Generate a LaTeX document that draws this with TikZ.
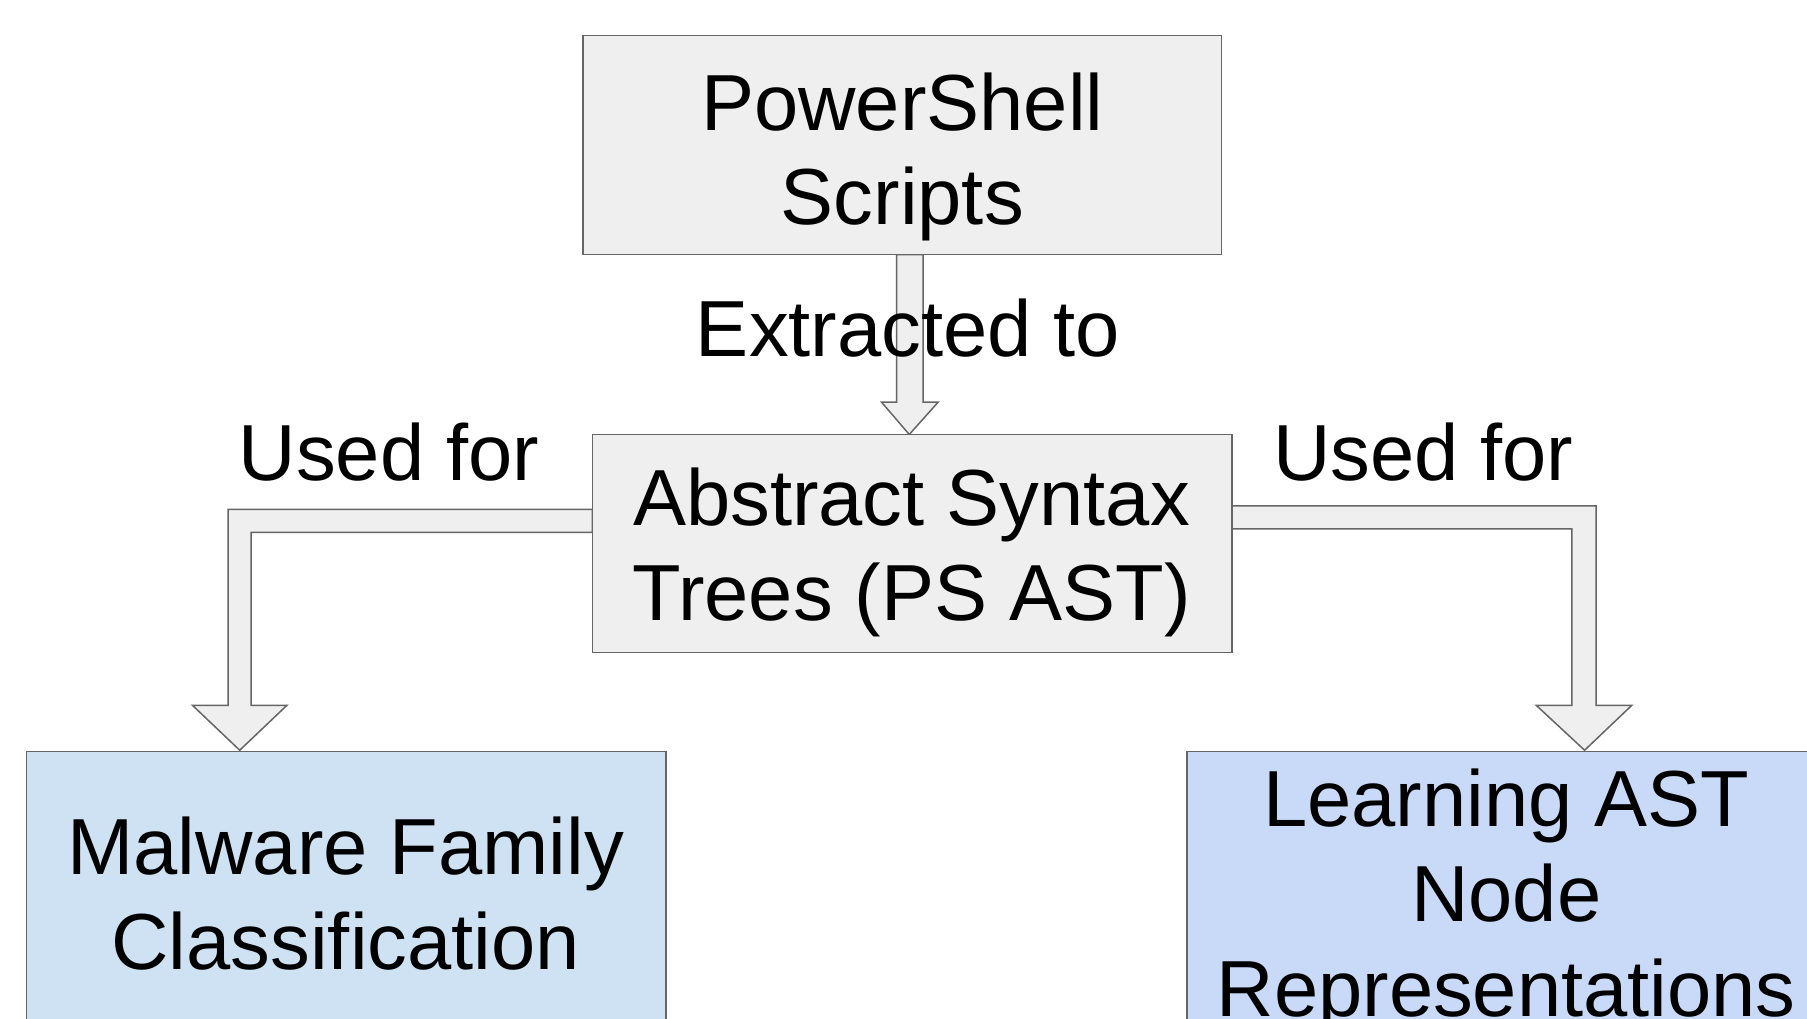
\documentclass[tikz,border=0pt]{standalone}
\usepackage{fontspec}
\setmainfont{Liberation Sans}
\usetikzlibrary{calc}
\definecolor{boxgray}{HTML}{EFEFEF}
\definecolor{linegray}{HTML}{666666}
\definecolor{lightblueA}{HTML}{CFE2F3}
\definecolor{lightblueB}{HTML}{C9DAF8}
\tikzset{
  boxnode/.style={draw=linegray, line width=1.3pt, inner sep=0pt, outer sep=0pt, rectangle},
  blockarrow/.style={draw=linegray, fill=boxgray, line width=1.3pt, line join=miter},
  txt/.style={inner sep=0pt, outer sep=0pt, anchor=base, font=\fontsize{69}{82}\selectfont}
}
\begin{document}
\begin{tikzpicture}[x=1pt,y=-1pt]
\useasboundingbox (0,0) rectangle (1568,884);
\clip (0,0) rectangle (1568,884);
\fill[white] (0,0) rectangle (1568,884);

% arrows (drawn first, boxes cover their joins)
\coordinate (vtip) at (789,377);
\draw[blockarrow] (778,221) -- (778,349) -- (765,349) -- (vtip) -- (814,349) -- (801,349) -- (801,221) -- cycle;
\coordinate (ltip) at (208,651);
\draw[blockarrow] (514,442) -- (198,442) -- (198,612) -- (167,612) -- (ltip) -- (249,612) -- (218,612) -- (218,462) -- (514,462) -- cycle;
\coordinate (rtip) at (1375,651);
\draw[blockarrow] (1069,439) -- (1385,439) -- (1385,612) -- (1416,612) -- (rtip) -- (1333,612) -- (1364,612) -- (1364,459) -- (1069,459) -- cycle;

% boxes
\node[boxnode, fill=boxgray, minimum width=554pt, minimum height=190pt] (top) at (783,126) {};
\node[boxnode, fill=boxgray, minimum width=555pt, minimum height=189pt] (mid) at (791.5,471.5) {};
\node[boxnode, fill=lightblueA, minimum width=555pt, minimum height=248pt] (bl) at (300.5,776) {};
\node[boxnode, fill=lightblueB, minimum width=554pt, minimum height=248pt] (br) at (1307,776) {};

% texts
\node[txt] (t1) at (783,113) {PowerShell};
\node[txt] (t2) at (783,195) {Scripts};
\node[txt] (ext) at (788,309) {Extracted to};
\node[txt] (ul) at (337.5,417) {Used for};
\node[txt] (ur) at (1235,417) {Used for};
\node[txt] (m1) at (791,456) {Abstract Syntax};
\node[txt] (m2) at (791,538) {Trees (PS AST)};
\node[txt] (b1) at (300,759) {Malware Family};
\node[txt] (b2) at (300,841) {Classification};
\node[txt] (r1) at (1307,717) {Learning AST};
\node[txt] (r2) at (1307,800) {Node};
\node[txt] (r3) at (1307,882) {Representations};
\end{tikzpicture}
\end{document}
